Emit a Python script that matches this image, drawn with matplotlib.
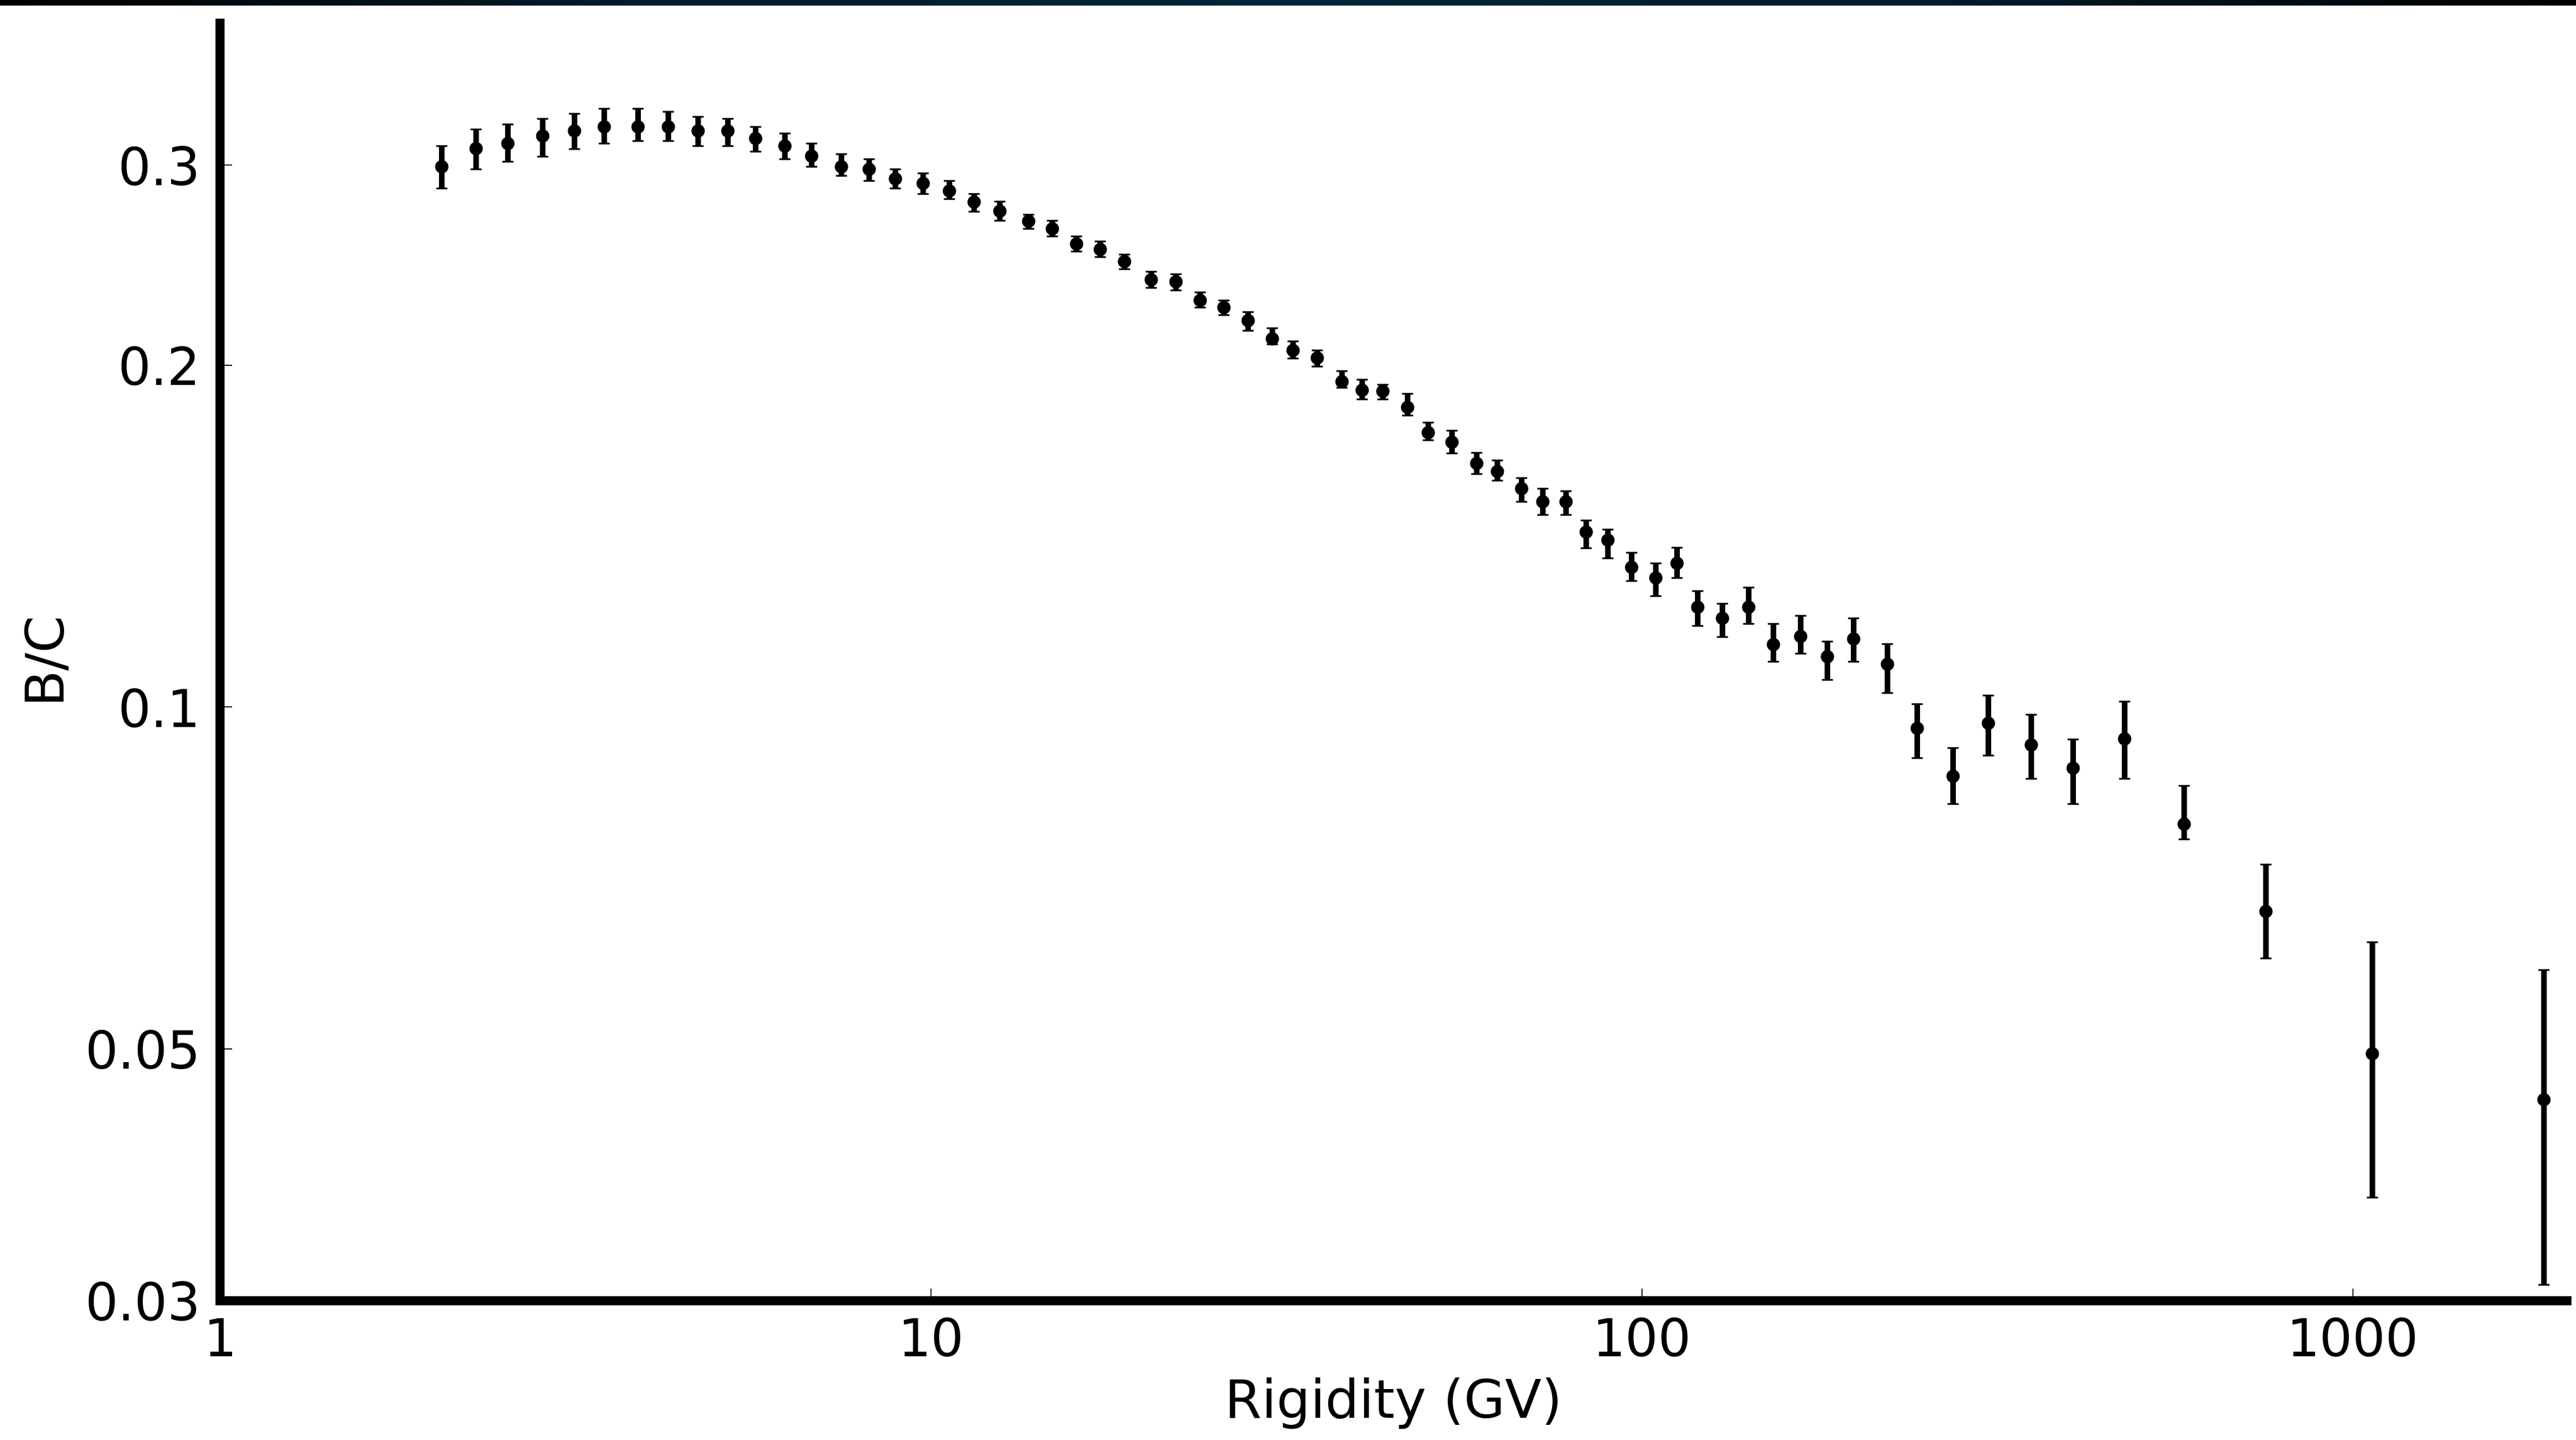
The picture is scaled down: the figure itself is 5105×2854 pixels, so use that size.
import numpy as np
import matplotlib
matplotlib.use("Agg")
import matplotlib.pyplot as plt
from matplotlib.colors import LinearSegmentedColormap

# B/C ratio vs rigidity, with lower / upper ends of each error bar
rigidity = np.array([
    2.05, 2.29, 2.54, 2.84, 3.15, 3.47, 3.87, 4.27, 4.70, 5.18,
    5.66, 6.23, 6.79, 7.48, 8.18, 8.90, 9.74, 10.6, 11.5, 12.5,
    13.7, 14.8, 16.0, 17.3, 18.7, 20.4, 22.1, 23.9, 25.8, 27.9,
    30.2, 32.3, 34.9, 37.8, 40.4, 43.2, 46.8, 50.0, 54.0, 58.5,
    62.6, 67.7, 72.5, 78.2, 83.4, 89.5, 96.7, 104.5, 111.9, 119.7,
    129.7, 141.1, 152.9, 167.0, 182.3, 198.3, 221.2, 243.7, 273.9, 307.1,
    352.4, 403.6, 477.4, 579.0, 754.0, 1065.0, 1856.0,
])
bc = np.array([
    0.2990, 0.3103, 0.3136, 0.3183, 0.3218, 0.3243, 0.3243, 0.3243, 0.3218, 0.3218,
    0.3167, 0.3119, 0.3055, 0.2990, 0.2975, 0.2920, 0.2891, 0.2848, 0.2786, 0.2734,
    0.2679, 0.2638, 0.2557, 0.2529, 0.2469, 0.2379, 0.2368, 0.2282, 0.2249, 0.2189,
    0.2110, 0.2062, 0.2029, 0.1935, 0.1901, 0.1897, 0.1836, 0.1745, 0.1711, 0.1639,
    0.1612, 0.1557, 0.1517, 0.1517, 0.1426, 0.1403, 0.1328, 0.1299, 0.1339, 0.1225,
    0.1198, 0.1225, 0.1135, 0.1154, 0.1108, 0.1148, 0.1091, 0.0958, 0.0869, 0.0968,
    0.0926, 0.0884, 0.0938, 0.0789, 0.0661, 0.0495, 0.0451,
])
bc_lo = np.array([
    0.2862, 0.2975, 0.3022, 0.3054, 0.3102, 0.3135, 0.3151, 0.3151, 0.3118, 0.3118,
    0.3085, 0.3037, 0.2991, 0.2936, 0.2906, 0.2862, 0.2832, 0.2803, 0.2731, 0.2681,
    0.2638, 0.2597, 0.2518, 0.2491, 0.2430, 0.2341, 0.2329, 0.2249, 0.2214, 0.2145,
    0.2087, 0.2027, 0.1995, 0.1911, 0.1866, 0.1866, 0.1807, 0.1719, 0.1673, 0.1604,
    0.1583, 0.1517, 0.1477, 0.1477, 0.1381, 0.1352, 0.1292, 0.1252, 0.1299, 0.1179,
    0.1153, 0.1184, 0.1097, 0.1115, 0.1057, 0.1097, 0.1029, 0.0902, 0.0822, 0.0907,
    0.0865, 0.0822, 0.0865, 0.0765, 0.0601, 0.0370, 0.0310,
])
bc_hi = np.array([
    0.3119, 0.3226, 0.3261, 0.3296, 0.3329, 0.3364, 0.3364, 0.3346, 0.3311, 0.3296,
    0.3243, 0.3202, 0.3135, 0.3070, 0.3038, 0.2975, 0.2952, 0.2906, 0.2832, 0.2788,
    0.2715, 0.2681, 0.2597, 0.2572, 0.2504, 0.2419, 0.2406, 0.2319, 0.2281, 0.2227,
    0.2157, 0.2100, 0.2062, 0.1976, 0.1943, 0.1923, 0.1888, 0.1780, 0.1752, 0.1675,
    0.1649, 0.1592, 0.1558, 0.1550, 0.1460, 0.1434, 0.1368, 0.1339, 0.1382, 0.1266,
    0.1233, 0.1274, 0.1184, 0.1204, 0.1142, 0.1198, 0.1136, 0.1006, 0.0921, 0.1024,
    0.0985, 0.0937, 0.1011, 0.0853, 0.0727, 0.0621, 0.0587,
])

x_ticks = [1, 10, 100, 1000]
x_tick_labels = ["1", "10", "100", "1000"]
y_ticks = [0.03, 0.05, 0.1, 0.2, 0.3]
y_tick_labels = ["0.03", "0.05", "0.1", "0.2", "0.3"]

plt.rcParams["font.family"] = ["DejaVu Sans"]

W, H = 5105, 2854
fig = plt.figure(figsize=(W / 100, H / 100), dpi=100)
fig.patch.set_facecolor("white")

# thin dark banner across the top edge
band = fig.add_axes([0, 1 - 11 / H, 1, 11 / H])
band_cmap = LinearSegmentedColormap.from_list(
    "band", ["#000000", "#021c2c", "#032539", "#021c2c", "#000000"])
band.imshow(np.linspace(0, 1, 512)[None, :], cmap=band_cmap, aspect="auto",
            extent=[0, 1, 0, 1])
band.set_axis_off()

left, right = 436 / W, 5087 / W
bottom, top = 1 - 2578 / H, 1 - 46 / H
ax = fig.add_axes([left, bottom, right - left, top - bottom])

yerr = np.vstack([bc - bc_lo, bc_hi - bc])
ax.errorbar(rigidity, bc, yerr=yerr, fmt="o", color="black", ecolor="black",
            markersize=18, elinewidth=8, capsize=8, capthick=2.5)

ax.set_xscale("log")
ax.set_yscale("log")
ax.set_xlim(1, 2000)
ax.set_ylim(0.03, 0.4)

ax.set_xticks(x_ticks)
ax.set_xticklabels(x_tick_labels)
ax.set_yticks(y_ticks)
ax.set_yticklabels(y_tick_labels)
ax.minorticks_off()

ax.tick_params(axis="both", which="major", direction="in", length=17, width=1.5,
               labelsize=74, color="black")
ax.tick_params(axis="x", pad=22)
ax.tick_params(axis="y", pad=28)

for side in ["top", "right"]:
    ax.spines[side].set_visible(False)
for side in ["left", "bottom"]:
    ax.spines[side].set_linewidth(13)

ax.set_xlabel("Rigidity (GV)", fontsize=76)
ax.set_ylabel("B/C", fontsize=76)
ax.xaxis.set_label_coords(0.5, -0.06)
ax.yaxis.set_label_coords(-0.064, 0.505)

fig.savefig("out.png", dpi=100, facecolor="white")
